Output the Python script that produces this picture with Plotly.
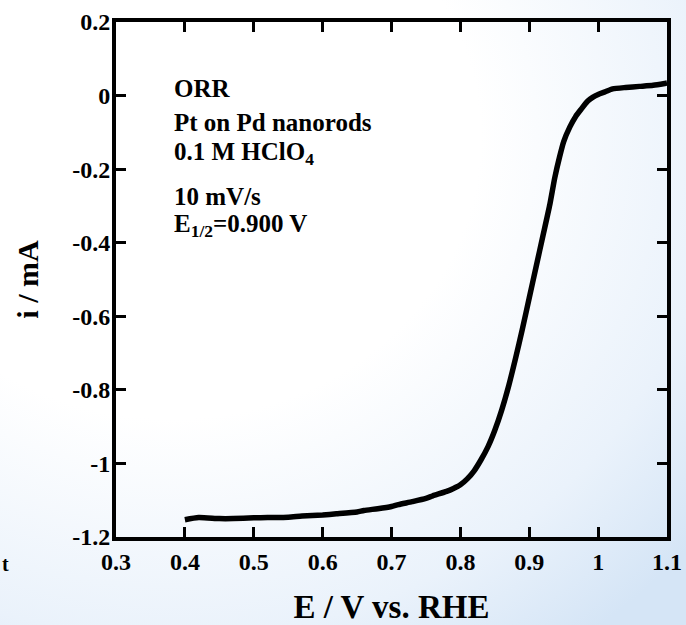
import base64
import plotly.graph_objects as go

# ---- data ----
potential_V = [0.40, 0.42, 0.45, 0.47, 0.50, 0.52, 0.55, 0.57, 0.60, 0.62, 0.65, 0.66,
               0.68, 0.70, 0.71, 0.73, 0.75, 0.76, 0.78, 0.79, 0.80, 0.81, 0.82, 0.83,
               0.84, 0.85, 0.86, 0.87, 0.88, 0.89, 0.90, 0.91, 0.92, 0.93, 0.937,
               0.944, 0.95, 0.959, 0.967, 0.975, 0.985, 0.992, 1.00, 1.01, 1.021,
               1.04, 1.06, 1.08, 1.097, 1.10]
current_mA = [-1.153, -1.147, -1.150, -1.150, -1.148, -1.147, -1.146, -1.143, -1.140, -1.137,
              -1.132, -1.128, -1.123, -1.117, -1.112, -1.104, -1.095, -1.088, -1.076, -1.068,
              -1.058, -1.042, -1.020, -0.990, -0.955, -0.910, -0.855, -0.790, -0.715, -0.635,
              -0.550, -0.465, -0.380, -0.295, -0.224, -0.167, -0.125, -0.085, -0.058, -0.038,
              -0.015, -0.005, 0.003, 0.010, 0.018, 0.022, 0.025, 0.028, 0.033, 0.034]

x_ticks = [0.3, 0.4, 0.5, 0.6, 0.7, 0.8, 0.9, 1.0, 1.1]
x_tick_labels = ["0.3", "0.4", "0.5", "0.6", "0.7", "0.8", "0.9", "1", "1.1"]
y_ticks = [0.2, 0, -0.2, -0.4, -0.6, -0.8, -1.0, -1.2]
y_tick_labels = ["0.2", "0", "-0.2", "-0.4", "-0.6", "-0.8", "-1", "-1.2"]

info_lines = ["ORR", "Pt on Pd nanorods", "0.1 M HClO<sub>4</sub>", "10 mV/s",
              "E<sub>1/2</sub>=0.900 V"]
x_title = "E / V vs. RHE"
y_title = "i / mA"

# ---- styling ----
W, H = 686, 625
ML, MR, MT, MB = 116, 19, 22, 88
PW, PH = W - ML - MR, H - MT - MB
FONT = "Liberation Serif, Times New Roman, serif"

svg = f'''<svg xmlns="http://www.w3.org/2000/svg" width="{W}" height="{H}" viewBox="0 0 {W} {H}" preserveAspectRatio="none">
<defs><radialGradient id="g" cx="0.25" cy="0.22" r="1.0" gradientUnits="objectBoundingBox">
<stop offset="0" stop-color="#ffffff"/><stop offset="0.45" stop-color="#ffffff"/>
<stop offset="0.8" stop-color="#eaf2fb"/><stop offset="1" stop-color="#d5e5f6"/></radialGradient></defs>
<rect x="0" y="0" width="{W}" height="{H}" fill="url(#g)"/></svg>'''
bg_src = "data:image/svg+xml;base64," + base64.b64encode(svg.encode()).decode()

fig = go.Figure()
fig.add_trace(go.Scatter(x=potential_V, y=current_mA, mode="lines",
                         line=dict(color="black", width=5.5, shape="spline", smoothing=0.6),
                         showlegend=False, hoverinfo="skip"))

axis_common = dict(showline=True, linewidth=4, linecolor="black", mirror="ticks",
                   ticks="inside", ticklen=10, tickwidth=3, tickcolor="black",
                   showgrid=False, zeroline=False, automargin=False,
                   tickfont=dict(family=FONT, size=24, color="black", weight="bold"))

fig.update_xaxes(range=[0.3, 1.1], tickvals=x_ticks, ticktext=x_tick_labels,
                 title=dict(text=f"<b>{x_title}</b>", font=dict(family=FONT, size=33, color="black"),
                            standoff=26), ticklabelstandoff=0, **axis_common)
fig.update_yaxes(range=[-1.2, 0.2], tickvals=y_ticks, ticktext=y_tick_labels,
                 title=dict(text=f"<b>{y_title}</b>", font=dict(family=FONT, size=30, color="black"),
                            standoff=26), ticklabelstandoff=-3, **axis_common)

annotations = []
line_y = [88, 122, 153, 196, 225]
for txt, yp in zip(info_lines, line_y):
    annotations.append(dict(text=f"<b>{txt}</b>", xref="paper", yref="paper",
                            x=(172 - ML) / PW, y=1 - (yp - MT) / PH, xanchor="left", yanchor="middle",
                            showarrow=False, font=dict(family=FONT, size=25, color="black")))
annotations.append(dict(text="<b>t</b>", xref="paper", yref="paper",
                        x=(1 - ML) / PW, y=1 - (564 - MT) / PH, xanchor="left", yanchor="middle",
                        showarrow=False, borderpad=0, font=dict(family=FONT, size=20, color="black")))

fig.update_layout(width=W, height=H, margin=dict(l=ML, r=MR, t=MT, b=MB, pad=0),
                  paper_bgcolor="white", plot_bgcolor="rgba(0,0,0,0)",
                  annotations=annotations,
                  images=[dict(source=bg_src, xref="paper", yref="paper",
                               x=-ML / PW, y=1 + MT / PH, sizex=W / PW, sizey=H / PH,
                               xanchor="left", yanchor="top", sizing="stretch", layer="below")])

fig.write_html("out.html")
